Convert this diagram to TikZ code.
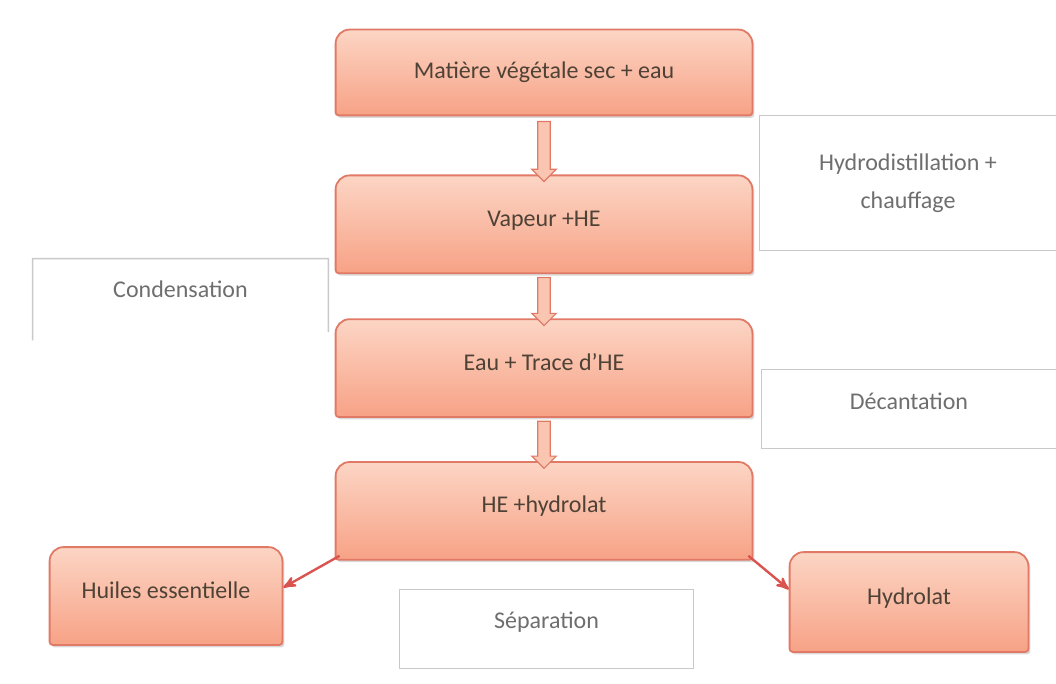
\documentclass[tikz,border=0pt]{standalone}
\usepackage{fontspec}
\setmainfont{Carlito}
\usepackage{tikz}
\usetikzlibrary{arrows,positioning,calc,shapes.arrows,backgrounds,shadows}

\definecolor{salmontop}{HTML}{FCD5C4}
\definecolor{salmonbot}{HTML}{F7A286}
\definecolor{salmonline}{HTML}{E07A66}
\definecolor{brownink}{HTML}{4E4236}
\definecolor{greyink}{HTML}{6E6E6E}
\definecolor{greyline}{HTML}{C9C9C9}
\definecolor{flowred}{HTML}{D9534F}

\begin{document}
\begin{tikzpicture}[x=0.5pt,y=-0.5pt,>=stealth',
  stage/.style={rectangle,minimum width=208pt,minimum height=48.5pt,text=brownink,
    font=\fontsize{12}{14}\selectfont,text height=9pt,text depth=7pt},
  note/.style={rectangle,align=center,text=greyink,font=\fontsize{12}{19}\selectfont,
    minimum width=147pt,minimum height=39pt},
  lift/.style={text height=9pt,text depth=#1},
  stage fill/.style={draw=salmonline,line width=0.9pt,top color=salmontop,bottom color=salmonbot,
    drop shadow={opacity=0.3,shadow xshift=1pt,shadow yshift=-1.2pt}},
  note line/.style={draw=greyline,line width=0.8pt},
  down arrow/.style={single arrow,draw=salmonline,fill=salmontop!70!salmonbot,line width=0.6pt,
    rotate=-90,inner xsep=0pt,inner ysep=2.8pt,
    single arrow head extend=3pt,single arrow head indent=0pt},
  split/.style={->,draw=flowred,line width=1.2pt,shorten >=0.5pt}]

  \useasboundingbox (0,0) rectangle (1056,684);

  % main column
  \node[stage,minimum height=42.5pt,text depth=3pt] (mat) at (544,72.5) {Matière végétale sec + eau};
  \node[stage,below=30pt of mat] (vap) {Vapeur +HE};
  \node[stage,below=23pt of vap] (eau) {Eau + Trace d’HE};
  \node[stage,below=22.5pt of eau] (hyd) {HE +hydrolat};
  \node[stage,minimum width=116pt] (huiles) at (166,596) {Huiles essentielle};
  \node[stage,minimum width=119pt,minimum height=49.5pt] (hydrolat) at (909,602) {Hydrolat};

  % operations
  \node[note,minimum width=148pt,minimum height=67pt] (hydro) at (908,183) {Hydrodistillation +\\chauffage};
  \node[note,lift=11pt,minimum width=147.5pt,minimum height=40.5pt] (cond) at (180.5,299.5) {Condensation};
  \node[note,lift=9pt] (dec) at (909,409) {Décantation};
  \node[note,lift=10pt,minimum width=146.5pt] (sep) at (546.5,629) {Séparation};

  \begin{scope}[on background layer]
    \foreach \n in {mat,vap,eau,hyd,huiles,hydrolat}
      \path[stage fill] (\n.south) [rounded corners=1.5pt] -- (\n.south west) [rounded corners=7pt]
        -- (\n.north west) -- (\n.north east) [rounded corners=1.5pt] -- (\n.south east) -- cycle;
  \end{scope}

  \draw[note line] (hydro.north east) -- (hydro.north west) -- (hydro.south west) -- (hydro.south east);
  \draw[note line] (cond.south west) -- (cond.north west) -- (cond.north east)
    -- ($(cond.north east)!0.9!(cond.south east)$);
  \draw[note line] (dec.north east) -- (dec.north west) -- (dec.south west) -- (dec.south east);
  \draw[note line] (sep.south west) rectangle (sep.north east);

  % flow
  \foreach \a/\b/\len in {mat/vap/30pt,vap/eau/24pt,eau/hyd/23.5pt}
    \node[down arrow,minimum height=\len] (\a-\b) at ($(\a.south)!0.55!(\b.north)$) {};

  \draw[split] ([xshift=2pt,yshift=2pt]hyd.south west) -- ([yshift=4pt]huiles.east);
  \draw[split] ([xshift=-2pt,yshift=2pt]hyd.south east) -- ([yshift=6pt]hydrolat.west);
\end{tikzpicture}
\end{document}
